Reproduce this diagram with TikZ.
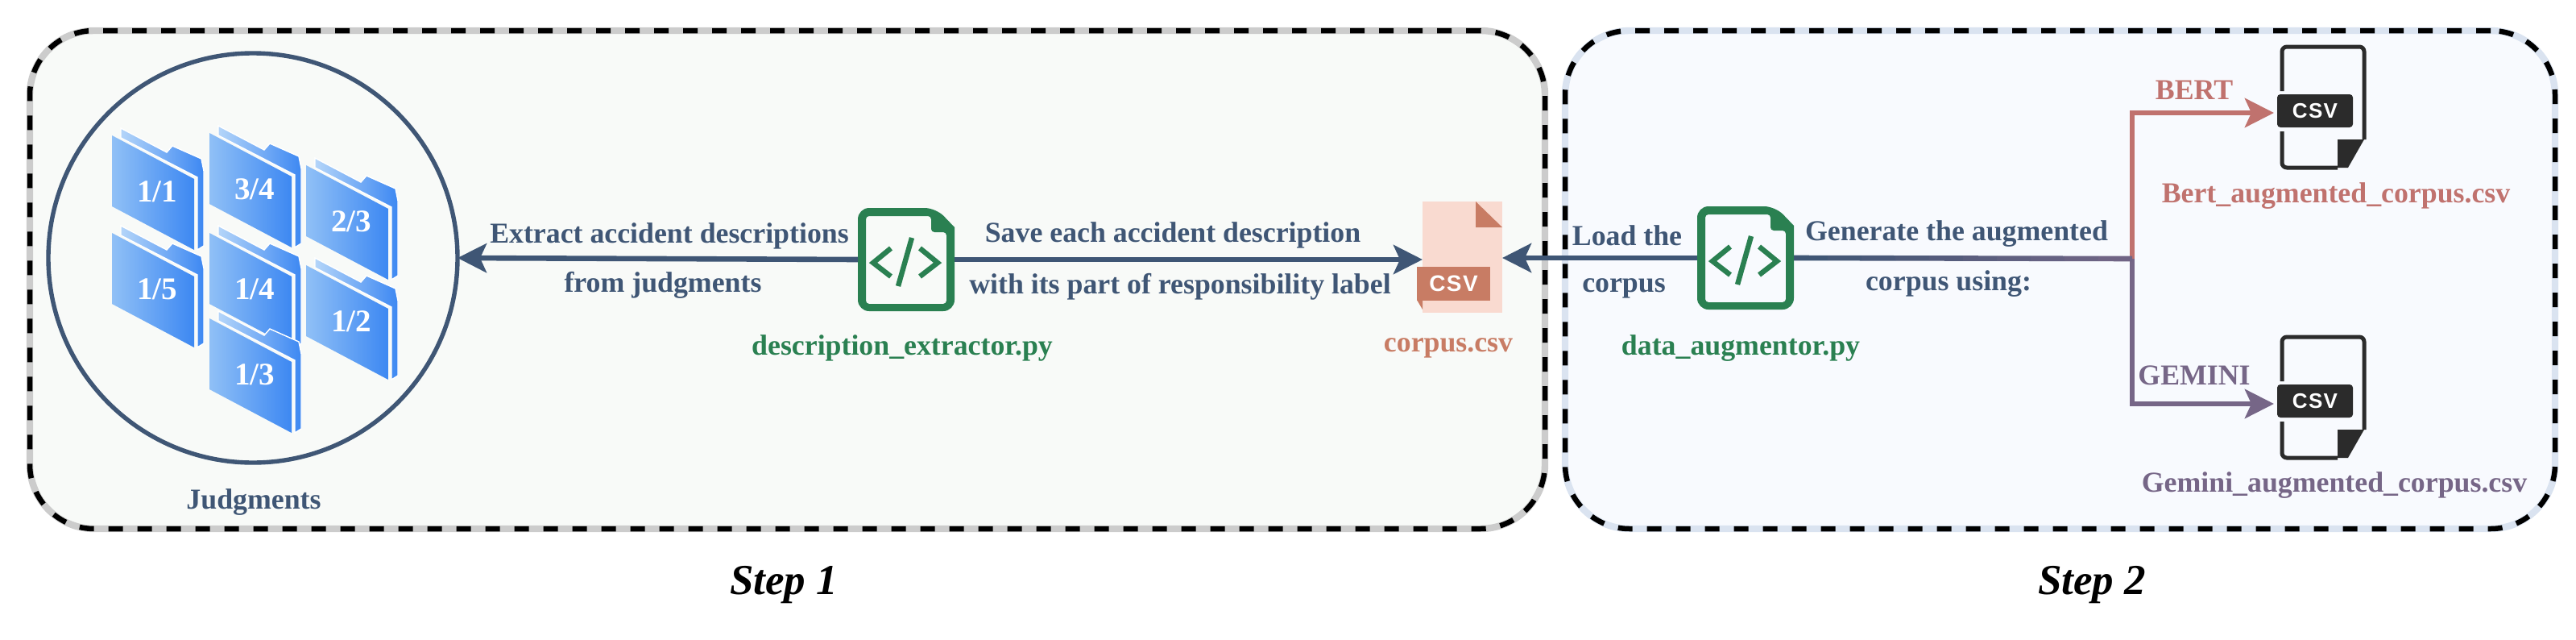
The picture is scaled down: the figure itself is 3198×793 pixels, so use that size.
\documentclass[tikz,border=0pt]{standalone}
\usepackage{fontspec}
\setmainfont{Liberation Serif}
\newfontfamily\csvfont[LetterSpace=5]{Liberation Sans}
\usetikzlibrary{arrows.meta,calc}

\definecolor{navy}{HTML}{3F5675}
\definecolor{codegreen}{HTML}{2A8051}
\definecolor{salmon}{HTML}{C87C64}
\definecolor{csvpink}{HTML}{F9DAD0}
\definecolor{bertred}{HTML}{C0726E}
\definecolor{geminipurple}{HTML}{766687}
\definecolor{inkblack}{HTML}{2B2B2B}
\definecolor{folderlight}{HTML}{90C0F6}
\definecolor{foldertop}{HTML}{B4D5F9}
\definecolor{folderdark}{HTML}{3D88F2}
\definecolor{panelgreen}{HTML}{F8FAF8}
\definecolor{panelblue}{HTML}{F8FAFE}
\definecolor{paneledge}{HTML}{DAE3F0}

\tikzset{
    % one folder of judgments, origin at the top left of its front face
    judgfolder/.pic={
        \shade[left color=foldertop, right color=folderdark, draw=white, line width=0.7pt]
            (11,-9) -- (68,21) -- (75,13) -- (111,29) -- (114,44) -- (114,137) -- (106,142)
            -- (106,52) -- (11,3) -- cycle;
        \shade[left color=folderlight, right color=folderdark]
            (0,0) -- (102,54) -- (102,142) -- (0,88) -- cycle;
        \node[folder label] (-label) at (56,70) {#1};
    },
    % green script file, origin at its centre
    codefile/.pic={
        \node[code box] (-box) at (0,0) {};
        \fill[codegreen, rounded corners=7pt, even odd rule]
            (-60,-64) -- (37,-64) [sharp corners] -- (60,-40) [rounded corners=7pt] -- (60,64) -- (-60,64) -- cycle
            [rounded corners=2pt] (-50,-54) -- (31,-54) -- (31,-34) -- (50,-34) -- (50,55) -- (-50,55) -- cycle;
        \draw[code glyph] (-19,-14) -- (-41,4) -- (-19,21);
        \draw[code glyph] (17,-14) -- (39,4) -- (17,21);
        \draw[code glyph] (7,-27) -- (-10,33);
    },
    % black csv file, origin at its top left
    blackcsv/.pic={
        \node[black box] (-box) at (-6,59) {};
        \draw[inkblack, line width=2.5pt, rounded corners=3pt]
            (0,55) -- (0,0) -- (102,0) -- (102,115);
        \draw[inkblack, line width=2.5pt, rounded corners=3pt]
            (0,105) -- (0,150) -- (69,150);
        \fill[inkblack] (69,115) -- (102,115) -- (82,150) -- (69,150) -- cycle;
        \node[black tag] (-tag) at (41,79.5) {CSV};
    },
    panel one/.style={rounded corners=40pt, draw=black, line width=3.25pt, dash pattern=on 9pt off 9pt,
        preaction={draw=gray!40, solid, line width=4.2pt, fill=panelgreen}},
    panel two/.style={rounded corners=40pt, draw=black, line width=3.25pt, dash pattern=on 9pt off 9pt,
        preaction={draw=paneledge, solid, line width=4.2pt, fill=panelblue}},
    folder label/.style={text=white, font=\fontsize{19.5}{19.5}\selectfont\bfseries, inner sep=0pt},
    code box/.style={minimum width=60pt, minimum height=64pt, inner sep=0pt, outer sep=0pt},
    code glyph/.style={codegreen, line width=3.2pt},
    black box/.style={minimum width=2pt, minimum height=2pt, inner sep=0pt, outer sep=0pt},
    black tag/.style={fill=inkblack, rounded corners=2pt, text=white, minimum width=47pt, minimum height=20.5pt,
        inner sep=0pt, font=\csvfont\fontsize{13}{13}\selectfont\bfseries},
    main text/.style={text=navy, font=\fontsize{17.9}{17.9}\selectfont\bfseries, inner sep=0pt, yshift=-1.5pt},
    step text/.style={text=black, font=\fontsize{26.5}{26.5}\selectfont\bfseries\itshape, inner sep=0pt},
    main arrow/.style={line width=3.3pt, -{Stealth[length=18pt, width=18pt, inset=4pt]}},
    main line/.style={line width=3.3pt},
}

\begin{document}
\begin{tikzpicture}[x=0.5pt, y=-0.5pt]
\useasboundingbox (0,0) rectangle (3198,793);

% the two steps
\node[panel one, minimum width=940.5pt, minimum height=309pt] (stepone) at (977.5,347) {};
\node[panel two, minimum width=614.5pt, minimum height=309pt] (steptwo) at (2557.5,347) {};
\node[step text] (steponelabel) at (973,726) {Step 1};
\node[step text] (steptwolabel) at (2597,726) {Step 2};

% judgments
\node[circle, draw=navy, line width=2.7pt, minimum size=254pt, inner sep=0pt, outer sep=0pt] (judgments) at (314,320) {};
\pic (f11) at (139,168) {judgfolder={1/1}};
\pic (f34) at (260,165) {judgfolder={3/4}};
\pic (f23) at (380,205) {judgfolder={2/3}};
\pic (f15) at (139,289) {judgfolder={1/5}};
\pic (f14) at (260,289) {judgfolder={1/4}};
\pic (f12) at (380,329) {judgfolder={1/2}};
\pic (f13) at (260,395) {judgfolder={1/3}};
\node[main text] (judgmentslabel) at (315,620) {Judgments};

% scripts and files
\pic (extractor) at (1125,322) {codefile};
\pic (augmentor) at (2167,320) {codefile};
\node[fill=csvpink, minimum width=49.5pt, minimum height=69pt, inner sep=0pt, outer sep=0pt] (corpus) at (1815.5,319) {};
\fill[salmon] (1832,250) -- (1865,282) -- (1832,282) -- cycle;
\fill[salmon] (1759,372) -- (1766,384) -- (1766,372) -- cycle;
\node[fill=salmon, text=white, minimum width=45.5pt, minimum height=21pt, inner sep=0pt, font=\csvfont\fontsize{14}{14}\selectfont\bfseries] (corpustag) at (1804.5,352) {CSV};
\pic (bertfile) at (2833,58) {blackcsv};
\pic (geminifile) at (2833,418) {blackcsv};

% file names
\node[main text, text=codegreen] (extractorname) at (1120,429) {description\_extractor.py};
\node[main text, text=salmon] (corpusname) at (1798,429) {corpus.csv};
\node[main text, text=codegreen] (augmentorname) at (2161,429) {data\_augmentor.py};
\node[main text, text=bertred] (bertname) at (2900,240) {Bert\_augmented\_corpus.csv};
\node[main text, text=geminipurple] (gemininame) at (2898,599) {Gemini\_augmented\_corpus.csv};

% connectors
\coordinate (split) at (2647,321);
\coordinate (berttip) at (2823,140);
\coordinate (geminitip) at (2823,501);
\draw[main arrow, navy] (extractor-box.west) -- (judgments.east);
\draw[main arrow, navy] (extractor-box.east) -- (corpus.west |- extractor-box.east);
\draw[main arrow, navy] (augmentor-box.west) -- (corpus.east |- augmentor-box.west);
\draw[main arrow, bertred] (split) -- (split |- berttip) -- (berttip);
\draw[main arrow, geminipurple] (split) -- (split |- geminitip) -- (geminitip);
\foreach \i [evaluate=\i as \j using \i+1, evaluate=\i as \k using \i*10] in {0,...,9}
    \draw[main line, geminipurple!\k!navy] ($(augmentor-box.east)!\i/10!(split)$) -- ($(augmentor-box.east)!\j/10!(split)$);

% connector labels
\node[main text] (extracttop) at (831,290) {Extract accident descriptions};
\node[main text] (extractbottom) at (823,351) {from judgments};
\node[main text] (savetop) at (1456,289) {Save each accident description};
\node[main text] (savebottom) at (1465,353) {with its part of responsibility label};
\node[main text] (loadtop) at (2020,289) {Load the};
\node[main text] (loadbottom) at (2016,355) {corpus};
\node[main text] (generatetop) at (2429,287) {Generate the augmented};
\node[main text] (generatebottom) at (2419,349) {corpus using:};
\node[main text, text=bertred] (bertlabel) at (2724,109) {BERT};
\node[main text, text=geminipurple] (geminilabel) at (2724,463) {GEMINI};
\end{tikzpicture}
\end{document}
